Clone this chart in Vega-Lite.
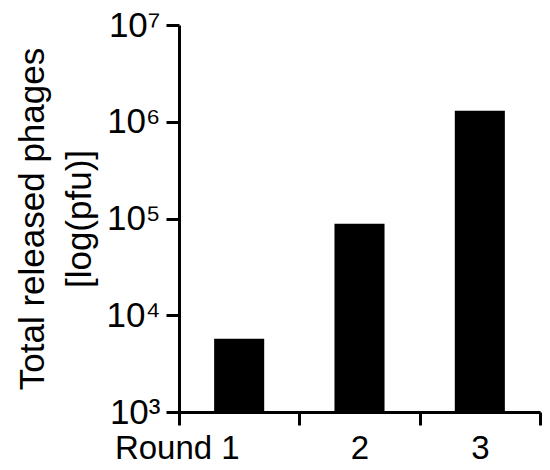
{
  "$schema": "https://vega.github.io/schema/vega-lite/v6.json",
  "width": 361,
  "height": 387,
  "autosize": {"type": "none"},
  "padding": {"left": 179, "top": 25, "right": 10, "bottom": 58},
  "background": "white",
  "config": {
    "view": {"stroke": null},
    "font": "Liberation Sans",
    "axis": {
      "domainColor": "black",
      "domainWidth": 3,
      "tickColor": "black",
      "tickWidth": 3,
      "labelColor": "black",
      "titleColor": "black",
      "labelFont": "Liberation Sans",
      "titleFont": "Liberation Sans",
      "grid": false
    }
  },
  "data": {
    "values": [
      {"round": "1", "pfu": 5700},
      {"round": "2", "pfu": 88000},
      {"round": "3", "pfu": 1300000}
    ]
  },
  "mark": {"type": "bar", "color": "black", "width": {"band": 0.416}},
  "encoding": {
    "x": {
      "field": "round",
      "type": "nominal",
      "sort": null,
      "scale": {"paddingInner": 0, "paddingOuter": 0},
      "axis": {
        "title": null,
        "labelAngle": 0,
        "labelFontSize": 33,
        "tickSize": 13,
        "labelPadding": 7,
        "tickBand": "extent",
        "labelExpr": "datum.value == '1' ? 'Round 1' : datum.label",
        "labelAlign": {"condition": {"test": "datum.value == '1'", "value": "right"}, "value": "center"},
        "labelDx": {"condition": {"test": "datum.value == '1'", "value": 8}, "value": 0}
      }
    },
    "y": {
      "field": "pfu",
      "type": "quantitative",
      "stack": null,
      "scale": {"type": "log", "domain": [1000, 10000000], "nice": false},
      "axis": {
        "values": [1000, 10000, 100000, 1000000, 10000000],
        "labelExpr": "datum.value == 1000 ? '10³' : datum.value == 10000 ? '10⁴' : datum.value == 100000 ? '10⁵' : datum.value == 1000000 ? '10⁶' : '10⁷'",
        "labelFontSize": 35,
        "tickSize": 13,
        "labelPadding": 6,
        "title": ["Total released phages", "[log(pfu)]"],
        "titleFontSize": 35,
        "titleFontWeight": "normal",
        "titleLineHeight": 47,
        "titlePadding": 9
      }
    },
    "y2": {"datum": 1000}
  }
}
